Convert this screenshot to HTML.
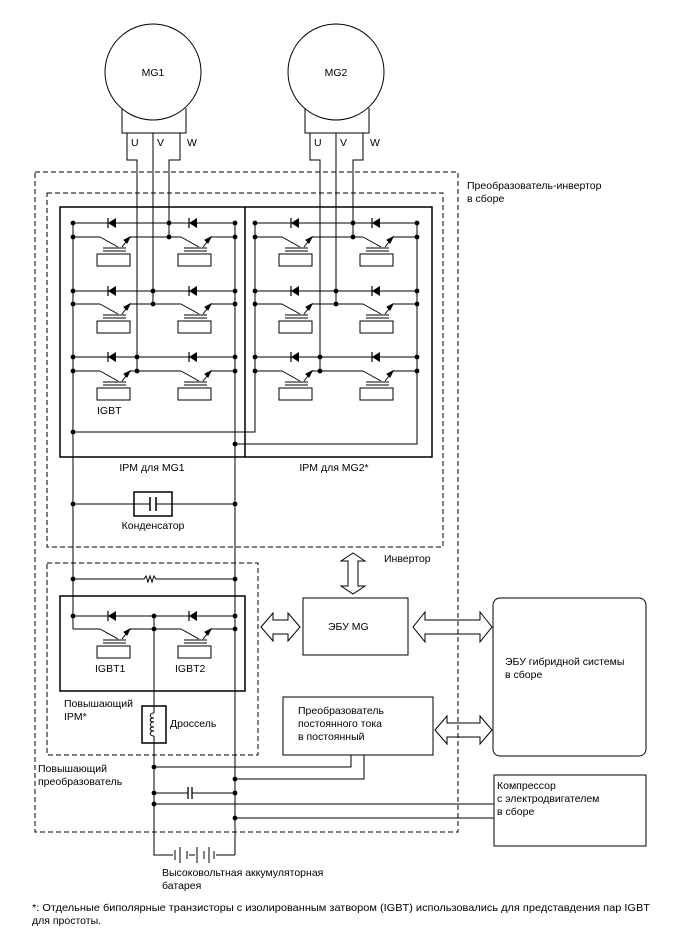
<!DOCTYPE html>
<html><head><meta charset="utf-8"><style>
html,body{margin:0;padding:0;background:#fff;}
svg{display:block;}
text{font-family:"Liberation Sans",sans-serif;font-size:10.5px;fill:#000;}
</style></head><body>
<svg width="688" height="949" viewBox="0 0 688 949" xmlns="http://www.w3.org/2000/svg">
<defs>
<g id="T" fill="none" stroke="#000" stroke-width="1">
 <path d="M0,0 L18,10"/>
 <path d="M22,10 L30,0"/>
 <path d="M30,0 L24,3 L27,6 Z" fill="#000"/>
 <path d="M3,11 H26 M3,14 H26"/>
 <rect x="-3" y="17" width="33" height="12"/>
</g>
<g id="D">
 <path d="M-4,0 L4,-5 L4,5 Z" fill="#000"/>
 <path d="M-4,-5 V5" stroke="#000" stroke-width="1.2"/>
</g>
<circle id="dot" r="2.4" fill="#000"/>
</defs>

<g fill="none" stroke="#000" stroke-width="1">
<!-- motors -->
<circle cx="153" cy="72" r="48"/>
<path d="M122,108 V133 H186 V108"/>
<path d="M127,133 V160 H137 V371"/>
<path d="M153,133 V304"/>
<path d="M180,133 V160 H169 V237"/>
<circle cx="336" cy="72" r="48"/>
<path d="M305,108 V133 H369 V108"/>
<path d="M310,133 V160 H320 V371"/>
<path d="M336,133 V304"/>
<path d="M363,133 V160 H353 V237"/>

<!-- dashed boxes -->
<rect x="35" y="172" width="423" height="660" stroke-dasharray="5,3"/>
<rect x="47" y="193" width="396" height="354" stroke-dasharray="5,3"/>
<rect x="47" y="563" width="211" height="192" stroke-dasharray="5,3"/>

<!-- IPM box -->
<rect x="60" y="207" width="372" height="250" stroke-width="1.5"/>
<path d="M245,207 V457" stroke-width="1.5"/>

<!-- rails MG1 -->
<path d="M73,223 V629"/>
<path d="M235,223 V855"/>
<!-- rails MG2 -->
<path d="M255,223 V432 H73"/>
<path d="M417,223 V444 H235"/>

<!-- rows MG1 -->
<path d="M73,223 H235 M73,237 H100 M130,237 H181 M211,237 H235"/>
<path d="M73,291 H235 M73,304 H100 M130,304 H181 M211,304 H235"/>
<path d="M73,357 H235 M73,371 H100 M130,371 H181 M211,371 H235"/>
<!-- rows MG2 -->
<path d="M255,223 H417 M255,237 H282 M312,237 H363 M393,237 H417"/>
<path d="M255,291 H417 M255,304 H282 M312,304 H363 M393,304 H417"/>
<path d="M255,357 H417 M255,371 H282 M312,371 H363 M393,371 H417"/>

<!-- capacitor row -->
<path d="M73,504 H150 M156,504 H235"/>
<rect x="134" y="492" width="38" height="24" stroke-width="1.5"/>
<path d="M150,497 V511 M156,497 V511" stroke-width="1.5"/>

<!-- resistor row -->
<path d="M73,579 H144 L146,576 L148,582 L150,576 L152,582 L154,576 L156,579 H235"/>

<!-- boost IPM -->
<rect x="60" y="596" width="185" height="95" stroke-width="1.5"/>
<path d="M73,616 H235 M73,629 H100 M130,629 H181 M211,629 H235"/>
<path d="M154,616 V855 H173"/>
<path d="M216,855 H235"/>
<!-- battery -->
<path d="M175,850 V860 M180,847 V863 M187,851 V859 M189,855 H195 M197,847 V863 M204,851 V859 M209,847 V863 M214,851 V859" />
<!-- inductor -->
<rect x="142" y="706" width="24" height="37" fill="#fff" stroke-width="1.5"/>
<path d="M154,706 V713 M154,736 V743"/>
<path d="M154,713 C149,713 149,718 154,718 C149,718 149,722 154,722 C149,722 149,727 154,727 C149,727 149,731 154,731 C149,731 149,736 154,736"/>

<!-- bottom lines -->
<path d="M154,767 H351 V755"/>
<path d="M235,779 H364 V755"/>
<path d="M154,793 H188 M192,793 H235"/>
<path d="M188,787 V799 M192,787 V799" stroke-width="1.3"/>
<path d="M154,804 H494"/>
<path d="M235,818 H494"/>

<!-- blocks -->
<rect x="303" y="598" width="105" height="57"/>
<rect x="283" y="697" width="150" height="58"/>
<rect x="493" y="598" width="153" height="158" rx="7"/>
<rect x="494" y="775" width="152" height="71"/>

<!-- arrows -->
<path d="M353,553 L365,561 H358 V586 H365 L353,594 L341,586 H348 V561 H341 Z"/>
<path d="M261,627 L273,613 V620 H288 V613 L300,627 L288,641 V634 H273 V641 Z"/>
<path d="M413,627 L425,612 V620 H480 V612 L492,627 L480,642 V634 H425 V642 Z"/>
<path d="M435,730 L447,716 V723 H480 V716 L492,730 L480,744 V737 H447 V744 Z"/>
</g>

<!-- transistors & diodes -->
<g>
<use href="#T" x="100" y="237"/><use href="#T" x="181" y="237"/>
<use href="#T" x="100" y="304"/><use href="#T" x="181" y="304"/>
<use href="#T" x="100" y="371"/><use href="#T" x="181" y="371"/>
<use href="#T" x="282" y="237"/><use href="#T" x="363" y="237"/>
<use href="#T" x="282" y="304"/><use href="#T" x="363" y="304"/>
<use href="#T" x="282" y="371"/><use href="#T" x="363" y="371"/>
<use href="#T" x="100" y="629"/><use href="#T" x="181" y="629"/>
<use href="#D" x="112" y="223"/><use href="#D" x="193" y="223"/>
<use href="#D" x="112" y="291"/><use href="#D" x="193" y="291"/>
<use href="#D" x="112" y="357"/><use href="#D" x="193" y="357"/>
<use href="#D" x="295" y="223"/><use href="#D" x="376" y="223"/>
<use href="#D" x="295" y="291"/><use href="#D" x="376" y="291"/>
<use href="#D" x="295" y="357"/><use href="#D" x="376" y="357"/>
<use href="#D" x="112" y="616"/><use href="#D" x="193" y="616"/>
</g>

<!-- dots -->
<g>
<use href="#dot" x="73" y="237"/><use href="#dot" x="235" y="223"/><use href="#dot" x="235" y="237"/><use href="#dot" x="73" y="223"/>
<use href="#dot" x="73" y="291"/><use href="#dot" x="73" y="304"/><use href="#dot" x="235" y="291"/><use href="#dot" x="235" y="304"/>
<use href="#dot" x="73" y="357"/><use href="#dot" x="73" y="371"/><use href="#dot" x="235" y="357"/><use href="#dot" x="235" y="371"/>
<use href="#dot" x="169" y="223"/><use href="#dot" x="169" y="237"/>
<use href="#dot" x="153" y="291"/><use href="#dot" x="153" y="304"/>
<use href="#dot" x="137" y="357"/><use href="#dot" x="137" y="371"/>
<use href="#dot" x="255" y="223"/><use href="#dot" x="255" y="237"/><use href="#dot" x="417" y="223"/><use href="#dot" x="417" y="237"/>
<use href="#dot" x="255" y="291"/><use href="#dot" x="255" y="304"/><use href="#dot" x="417" y="291"/><use href="#dot" x="417" y="304"/>
<use href="#dot" x="255" y="357"/><use href="#dot" x="255" y="371"/><use href="#dot" x="417" y="357"/><use href="#dot" x="417" y="371"/>
<use href="#dot" x="353" y="223"/><use href="#dot" x="353" y="237"/>
<use href="#dot" x="336" y="291"/><use href="#dot" x="336" y="304"/>
<use href="#dot" x="320" y="357"/><use href="#dot" x="320" y="371"/>
<use href="#dot" x="73" y="432"/><use href="#dot" x="235" y="444"/>
<use href="#dot" x="73" y="504"/><use href="#dot" x="235" y="504"/>
<use href="#dot" x="73" y="579"/><use href="#dot" x="235" y="579"/>
<use href="#dot" x="73" y="616"/><use href="#dot" x="154" y="616"/><use href="#dot" x="235" y="616"/>
<use href="#dot" x="154" y="629"/><use href="#dot" x="235" y="629"/>
<use href="#dot" x="154" y="767"/><use href="#dot" x="235" y="779"/>
<use href="#dot" x="154" y="793"/><use href="#dot" x="235" y="793"/>
<use href="#dot" x="154" y="804"/><use href="#dot" x="235" y="818"/>
</g>

<!-- text -->
<text x="153" y="76" text-anchor="middle">MG1</text>
<text x="336" y="76" text-anchor="middle">MG2</text>
<text x="131" y="146">U</text><text x="157" y="146">V</text><text x="187" y="146">W</text>
<text x="314" y="146">U</text><text x="340" y="146">V</text><text x="370" y="146">W</text>
<text x="467" y="189">Преобразователь-инвертор</text>
<text x="467" y="202">в сборе</text>
<text x="97" y="414">IGBT</text>
<text x="152" y="471" text-anchor="middle">IPM для MG1</text>
<text x="334" y="471" text-anchor="middle">IPM для MG2*</text>
<text x="153" y="529" text-anchor="middle">Конденсатор</text>
<text x="384" y="562">Инвертор</text>
<text x="328" y="630">ЭБУ MG</text>
<text x="95" y="672">IGBT1</text>
<text x="175" y="672">IGBT2</text>
<text x="64" y="707">Повышающий</text>
<text x="64" y="720">IPM*</text>
<text x="170" y="727">Дроссель</text>
<text x="38" y="772">Повышающий</text>
<text x="38" y="785">преобразователь</text>
<text x="298" y="714">Преобразователь</text>
<text x="298" y="727">постоянного тока</text>
<text x="298" y="740">в постоянный</text>
<text x="505" y="665">ЭБУ гибридной системы</text>
<text x="505" y="678">в сборе</text>
<text x="497" y="789">Компрессор</text>
<text x="497" y="802">с электродвигателем</text>
<text x="497" y="815">в сборе</text>
<text x="162" y="876">Высоковольтная аккумуляторная</text>
<text x="162" y="889">батарея</text>
<text x="32" y="911" textLength="618" lengthAdjust="spacingAndGlyphs">*: Отдельные биполярные транзисторы с изолированным затвором (IGBT) использовались для представдения пар IGBT</text>
<text x="32" y="924">для простоты.</text>
</svg>
</body></html>
